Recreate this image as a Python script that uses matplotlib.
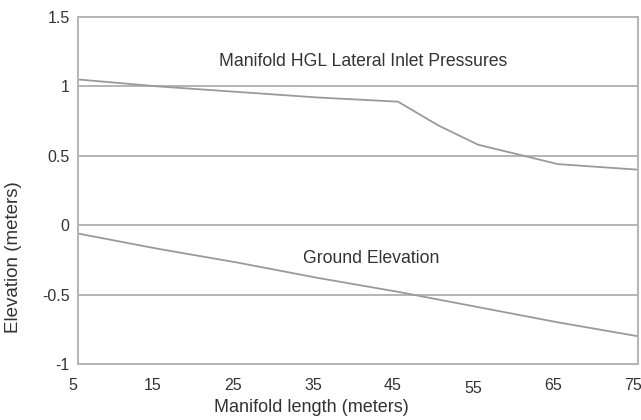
import matplotlib
matplotlib.use("Agg")
import matplotlib.pyplot as plt
import matplotlib.transforms as mtransforms

plt.rcParams['font.family'] = ['Liberation Sans', 'DejaVu Sans']

# Data
hgl_x = [5, 15, 25, 35, 45, 50, 55, 60, 65, 70, 75]
hgl_y = [1.05, 1.00, 0.96, 0.92, 0.89, 0.72, 0.58, 0.51, 0.44, 0.42, 0.40]
ground_x = [5, 15, 25, 35, 45, 55, 65, 75]
ground_y = [-0.06, -0.17, -0.27, -0.38, -0.48, -0.59, -0.70, -0.80]
x_ticks = [5, 15, 25, 35, 45, 55, 65, 75]
y_ticks = [-1, -0.5, 0, 0.5, 1, 1.5]
y_ticklabels = ['-1', '-0.5', '0', '0.5', '1', '1.5']

fig = plt.figure(figsize=(6.41, 4.20), dpi=100)
ax = fig.add_axes([78/641, 1 - 364/420, 560/641, 347/420])

grid_c = '#b4b4b4'
line_c = '#9a9a9a'
text_c = '#333333'

for yv in [-0.5, 0, 0.5, 1]:
    ax.axhline(yv, color=grid_c, lw=1.4, zorder=1)

ax.plot(hgl_x, hgl_y, color=line_c, lw=1.3, zorder=2)
ax.plot(ground_x, ground_y, color=line_c, lw=1.3, zorder=2)

ax.set_xlim(5, 75)
ax.set_ylim(-1, 1.5)
ax.set_xticks(x_ticks)
ax.set_yticks(y_ticks)
ax.set_yticklabels(y_ticklabels)
ax.tick_params(length=0, labelsize=11.5, colors=text_c)
ax.tick_params(axis='y', pad=6)
ax.tick_params(axis='x', pad=10)

shift = mtransforms.ScaledTranslation(-5/100, 0, fig.dpi_scale_trans)
shift55 = mtransforms.ScaledTranslation(-5/100, -3.5/100, fig.dpi_scale_trans)
for lbl in ax.get_xticklabels():
    if lbl.get_text() == '55':
        lbl.set_transform(lbl.get_transform() + shift55)
    else:
        lbl.set_transform(lbl.get_transform() + shift)

for s in ax.spines.values():
    s.set_color(grid_c)
    s.set_linewidth(1.4)

ax.text(40.6, 1.18, 'Manifold HGL Lateral Inlet Pressures', ha='center', va='center',
        fontsize=12.7, color=text_c)
ax.text(41.6, -0.24, 'Ground Elevation', ha='center', va='center',
        fontsize=12.7, color=text_c)

fig.text(311/641, 1 - 408/420, 'Manifold length (meters)', ha='center', va='center',
         fontsize=13, color=text_c)
fig.text(14/641, 1 - 257/420, 'Elevation (meters)', ha='center', va='center',
         rotation=90, fontsize=13.5, color=text_c)

fig.savefig('out.png', dpi=100, facecolor='white')
